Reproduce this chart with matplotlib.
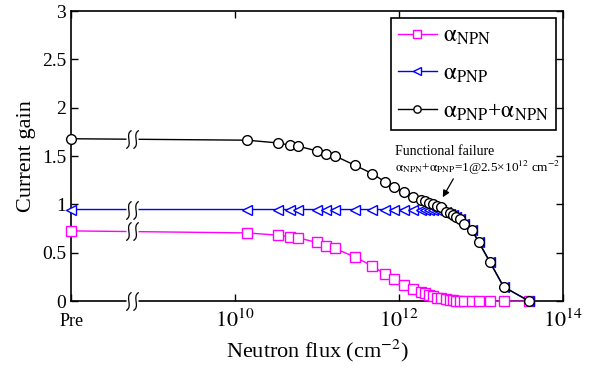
import numpy as np
import matplotlib
matplotlib.use('Agg')
import matplotlib.pyplot as plt
from matplotlib.path import Path

plt.rcParams['font.family'] = ['Liberation Serif', 'DejaVu Serif']
plt.rcParams['mathtext.fontset'] = 'stix'

# "Pre" sits at 1e8 on the log axis, axis break at ~5.5e8
pre_x = 1e8
break_x = 5.5e8

flux = [1.4e10, 3.3e10, 4.7e10, 5.9e10, 1.0e11, 1.3e11, 1.65e11, 2.9e11, 4.7e11, 6.8e11,
        8.7e11, 1.15e12, 1.48e12, 1.86e12, 2.1e12, 2.35e12, 2.63e12, 2.95e12, 3.24e12, 3.8e12,
        4.17e12, 4.57e12, 5.0e12, 5.5e12, 6.3e12, 7.8e12, 9.5e12, 1.29e13, 1.9e13, 3.9e13]
a_npn_pre = 0.727
a_pnp_pre = 0.948
a_sum_pre = 1.68
a_npn = [0.706, 0.683, 0.665, 0.655, 0.607, 0.572, 0.545, 0.458, 0.365, 0.279,
         0.228, 0.17, 0.131, 0.096, 0.08, 0.062, 0.052, 0.038, 0.028, 0.018,
         0.012, 0.008, 0.005, 0.003, 0.002, 0.001, 0.0, 0.0, 0.0, 0.0]
a_pnp = [0.948, 0.948, 0.948, 0.948, 0.948, 0.948, 0.948, 0.948, 0.948, 0.948,
         0.948, 0.948, 0.948, 0.948, 0.948, 0.948, 0.948, 0.945, 0.94, 0.92,
         0.905, 0.89, 0.87, 0.847, 0.80, 0.733, 0.607, 0.406, 0.148, 0.0]
a_sum = [1.665, 1.637, 1.613, 1.603, 1.554, 1.527, 1.503, 1.406, 1.32, 1.234,
         1.182, 1.125, 1.08, 1.045, 1.032, 1.017, 1.0, 0.983, 0.969, 0.924,
         0.907, 0.889, 0.872, 0.848, 0.803, 0.734, 0.607, 0.406, 0.148, 0.0]

fig = plt.figure(figsize=(5.93, 3.70), dpi=100)
ax = fig.add_axes([0.12, 0.186, 0.829, 0.784])

series = [
    (a_npn_pre, a_npn, '#ff00ff', 's', r'$\mathrm{\alpha}_{\rm NPN}$'),
    (a_pnp_pre, a_pnp, '#0000ff', '<', r'$\mathrm{\alpha}_{\rm PNP}$'),
    (a_sum_pre, a_sum, 'black', 'o', r'$\mathrm{\alpha}_{\rm PNP}$+$\mathrm{\alpha}_{\rm NPN}$'),
]
for pre, vals, col, mk, lab in series:
    ax.plot([pre_x] + flux, [pre] + vals, color=col, lw=1, marker=mk, ms=7,
            mfc='white', mec=col, mew=1, label=lab, clip_on=False, zorder=3)

# axis-break squiggles
def s_curve(x0):
    return [(x0 - 0.3, -1.0), (x0 + 0.5, -0.6), (x0 - 0.5, 0.6), (x0 + 0.3, 1.0)]
verts = s_curve(-0.4) + s_curve(0.4)
codes = [Path.MOVETO, Path.CURVE4, Path.CURVE4, Path.CURVE4] * 2
squiggle = Path(verts, codes)
for y in [a_npn_pre, a_pnp_pre, a_sum_pre, 0.0]:
    ax.plot([break_x], [y], marker='s', ms=8, mfc='white', mec='none', zorder=5, clip_on=False)
    ax.plot([break_x], [y], marker=squiggle, ms=13, mfc='none', mec='black', mew=0.9,
            zorder=6, clip_on=False)

ax.set_xscale('log')
ax.set_xlim(1e8, 1e14)
ax.set_ylim(0, 3)
ax.set_xticks([1e8, 1e10, 1e12, 1e14])
ax.set_xticklabels(['Pre', r'$10^{10}$', r'$10^{12}$', r'$10^{14}$'])
ax.xaxis.set_minor_locator(matplotlib.ticker.NullLocator())
ax.set_yticks([0, 0.5, 1, 1.5, 2, 2.5, 3])
ax.set_yticklabels(['0', '0.5', '1', '1.5', '2', '2.5', '3'])
ax.tick_params(direction='in', top=True, right=True, length=5, width=1, labelsize=14)
ax.tick_params(axis='x', pad=6)
xl = ax.get_xticklabels()
xl[0].set_fontsize(13)
xl[0].set_y(-0.012)
for t in xl[1:]:
    t.set_fontsize(16)
for s in ax.spines.values():
    s.set_linewidth(1.2)

ax.set_xlabel(r'Neutron flux (cm$^{-2}$)', fontsize=16, labelpad=4)
ax.set_ylabel('Current gain', fontsize=16, labelpad=4)

ax.text(8.9e11, 1.51, 'Functional failure', fontsize=10)
ax.text(8.9e11, 1.34, r'$\mathrm{\alpha}_{\rm NPN}$+$\mathrm{\alpha}_{\rm PNP}$=1@2.5×10$^{12}$ cm$^{-2}$',
        fontsize=9.5)
ax.annotate('', xy=(3.3e12, 1.05), xytext=(4.8e12, 1.29),
            arrowprops=dict(arrowstyle='-|>', color='black', lw=0.9, mutation_scale=10))

leg = ax.legend(loc='upper right', fontsize=17, frameon=True, fancybox=False,
                edgecolor='black', framealpha=1, handlelength=1.65, handletextpad=0.25,
                labelspacing=0.68, borderpad=0.3, borderaxespad=0.3, markerscale=0.75)
leg.get_frame().set_linewidth(1.2)

fig.savefig('out.png', dpi=100)
